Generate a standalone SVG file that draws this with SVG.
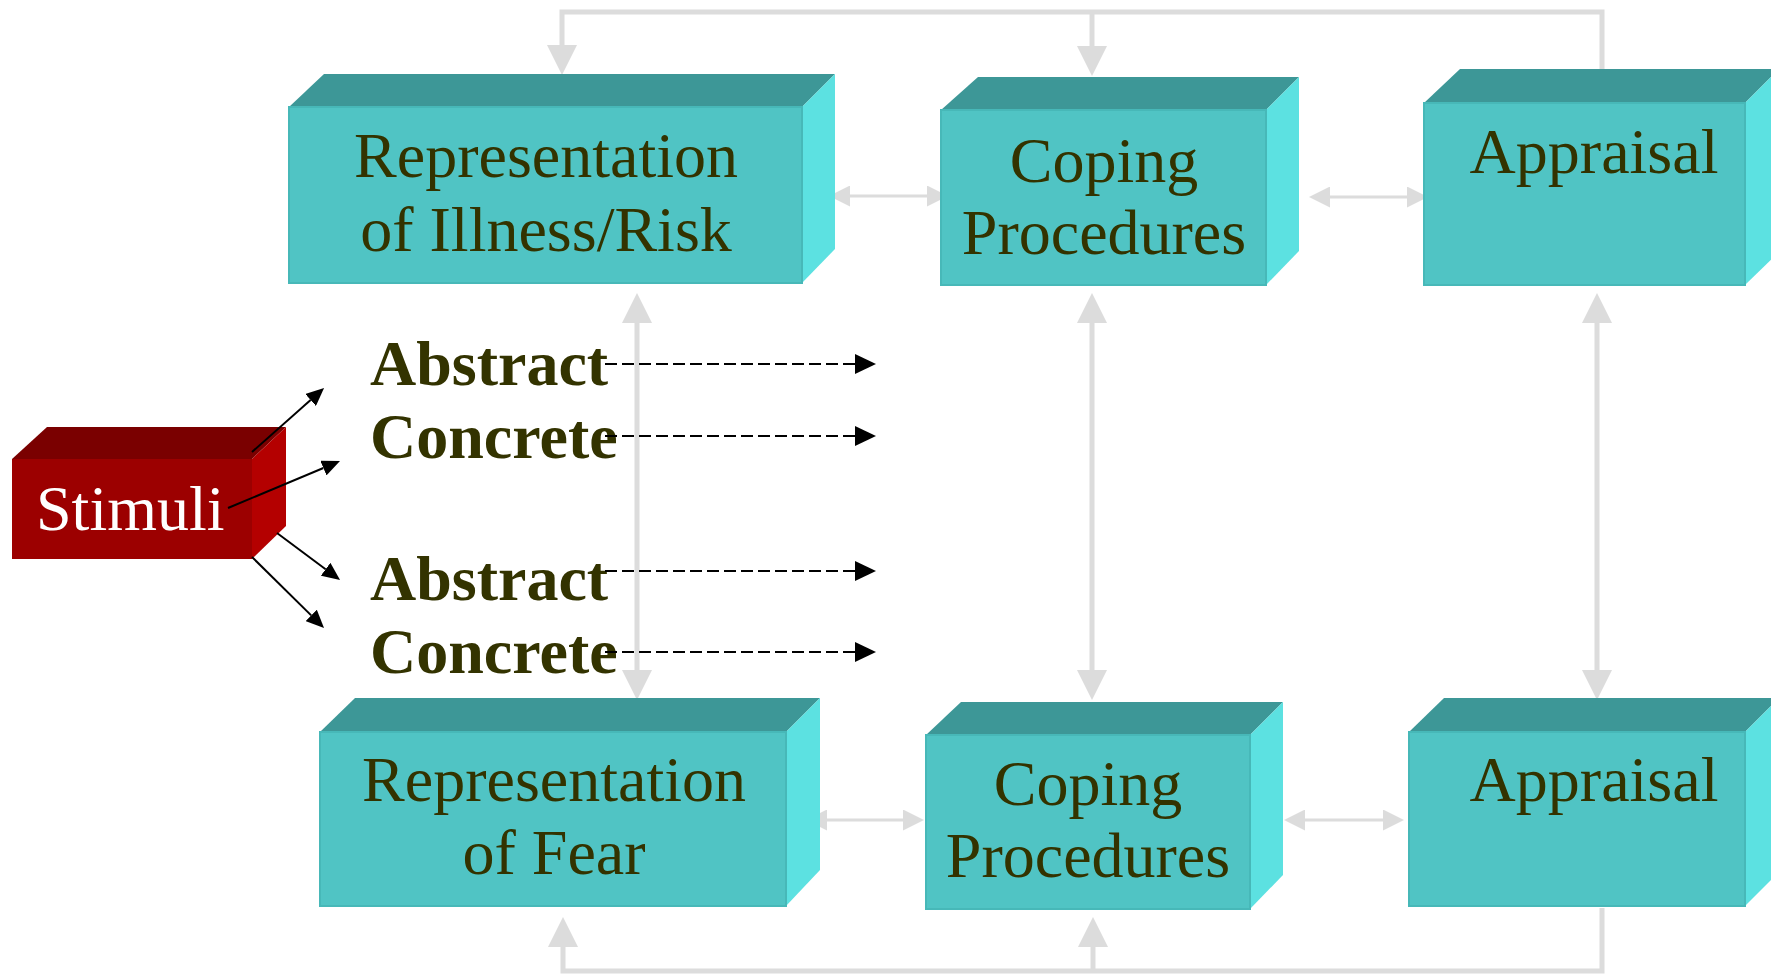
<svg xmlns="http://www.w3.org/2000/svg" width="1771" height="974" viewBox="0 0 1771 974">
<style>
.top{fill:#3d9797}
.front{fill:#50c4c4;stroke:#47b8b8;stroke-width:2}
.side{fill:#5ce1e1}
.rtop{fill:#7a0000}
.rfront{fill:#9c0000}
.rside{fill:#b40000}
.lbl{font-family:"Liberation Serif","Times New Roman",serif;font-size:64px;fill:#333300;text-anchor:middle}
.bold{font-family:"Liberation Serif","Times New Roman",serif;font-size:64px;font-weight:bold;fill:#333300}
.stim{font-family:"Liberation Serif","Times New Roman",serif;font-size:64px;fill:#ffffff}
.gbig{fill:none;stroke:#dcdcdc;stroke-width:5}
.gsmall{fill:none;stroke:#dcdcdc;stroke-width:3}
.dash{fill:none;stroke:#000;stroke-width:2;stroke-dasharray:12 5}
.blk{fill:none;stroke:#000;stroke-width:2}
</style>
<defs>
<marker id="gB" markerUnits="userSpaceOnUse" viewBox="0 0 30 30" markerWidth="30" markerHeight="30" refX="0" refY="15" orient="auto-start-reverse"><path d="M0,0 L30,15 L0,30 z" fill="#dcdcdc"/></marker>
<marker id="gS" markerUnits="userSpaceOnUse" viewBox="0 0 21 21" markerWidth="21" markerHeight="21" refX="0" refY="10.5" orient="auto-start-reverse"><path d="M0,0 L21,10.5 L0,21 z" fill="#dcdcdc"/></marker>
<marker id="bD" markerUnits="userSpaceOnUse" viewBox="0 0 21 20" markerWidth="21" markerHeight="20" refX="0" refY="10" orient="auto"><path d="M0,0 L21,10 L0,20 z" fill="#000"/></marker>
<marker id="bS" markerUnits="userSpaceOnUse" viewBox="0 0 18 16" markerWidth="18" markerHeight="16" refX="0" refY="8" orient="auto"><path d="M0,0 L18,8 L0,16 z" fill="#000"/></marker>
</defs>
<rect width="1771" height="974" fill="#ffffff"/>

<g id="connectors-gray">
<path class="gbig" d="M1602,76 L1602,12 L562,12 L562,45" marker-end="url(#gB)"/>
<path class="gbig" d="M1092,12 L1092,46" marker-end="url(#gB)"/>
<path class="gbig" d="M1602,908 L1602,971 L563,971 L563,947" marker-end="url(#gB)"/>
<path class="gbig" d="M1093,971 L1093,947" marker-end="url(#gB)"/>
<path class="gbig" d="M637,323 L637,670" marker-start="url(#gB)" marker-end="url(#gB)"/>
<path class="gbig" d="M1092,323 L1092,670" marker-start="url(#gB)" marker-end="url(#gB)"/>
<path class="gbig" d="M1597,323 L1597,670" marker-start="url(#gB)" marker-end="url(#gB)"/>
<path class="gsmall" d="M850,196 L927,196" marker-start="url(#gS)" marker-end="url(#gS)"/>
<path class="gsmall" d="M1330,197 L1407,197" marker-start="url(#gS)" marker-end="url(#gS)"/>
<path class="gsmall" d="M827,820 L903,820" marker-start="url(#gS)" marker-end="url(#gS)"/>
<path class="gsmall" d="M1305,820 L1383,820" marker-start="url(#gS)" marker-end="url(#gS)"/>
</g>

<g id="node-rep-illness">
<polygon class="top" points="289,107 324,74 835,74 802,107"/>
<polygon class="side" points="802,107 835,74 835,249 802,283"/>
<rect class="front" x="289" y="107" width="513" height="176"/>
<text class="lbl" x="546" y="177">Representation</text>
<text class="lbl" x="546" y="251">of Illness/Risk</text>
</g>

<g id="node-coping-top">
<polygon class="top" points="941,110 978,77 1299,77 1266,110"/>
<polygon class="side" points="1266,110 1299,77 1299,251 1266,285"/>
<rect class="front" x="941" y="110" width="325" height="175"/>
<text class="lbl" x="1104" y="182">Coping</text>
<text class="lbl" x="1104" y="254">Procedures</text>
</g>

<g id="node-appraisal-top">
<polygon class="top" points="1424,103 1460,69 1779,69 1745,103"/>
<polygon class="side" points="1745,103 1779,69 1779,252 1745,285"/>
<rect class="front" x="1424" y="103" width="321" height="182"/>
<text class="lbl" x="1594" y="173">Appraisal</text>
</g>

<g id="node-rep-fear">
<polygon class="top" points="320,732 355,698 820,698 786,732"/>
<polygon class="side" points="786,732 820,698 820,870 786,906"/>
<rect class="front" x="320" y="732" width="466" height="174"/>
<text class="lbl" x="554" y="801">Representation</text>
<text class="lbl" x="554" y="874">of Fear</text>
</g>

<g id="node-coping-bottom">
<polygon class="top" points="926,735 961,702 1283,702 1250,735"/>
<polygon class="side" points="1250,735 1283,702 1283,875 1250,909"/>
<rect class="front" x="926" y="735" width="324" height="174"/>
<text class="lbl" x="1088" y="805">Coping</text>
<text class="lbl" x="1088" y="877">Procedures</text>
</g>

<g id="node-appraisal-bottom">
<polygon class="top" points="1409,732 1444,698 1779,698 1745,732"/>
<polygon class="side" points="1745,732 1779,698 1779,872 1745,906"/>
<rect class="front" x="1409" y="732" width="336" height="174"/>
<text class="lbl" x="1594" y="801">Appraisal</text>
</g>

<g id="node-stimuli">
<polygon class="rtop" points="12,459 47,427 286,427 252,459"/>
<polygon class="rside" points="252,459 286,427 286,526 252,559"/>
<rect class="rfront" x="12" y="459" width="240" height="100"/>
<text class="stim" x="36" y="530">Stimuli</text>
</g>

<g id="labels">
<text class="bold" x="370" y="385">Abstract</text>
<text class="bold" x="370" y="458">Concrete</text>
<text class="bold" x="370" y="600">Abstract</text>
<text class="bold" x="370" y="673">Concrete</text>
</g>

<g id="connectors-black">
<path class="blk" d="M252,452 L310.6,400" marker-end="url(#bS)"/>
<path class="blk" d="M228,508 L323.4,468" marker-end="url(#bS)"/>
<path class="blk" d="M277,533 L325.6,569.2" marker-end="url(#bS)"/>
<path class="blk" d="M252,557 L311.2,615.4" marker-end="url(#bS)"/>
<path class="dash" d="M605,364 L855,364" marker-end="url(#bD)"/>
<path class="dash" d="M605,436 L855,436" marker-end="url(#bD)"/>
<path class="dash" d="M605,571 L855,571" marker-end="url(#bD)"/>
<path class="dash" d="M605,652 L855,652" marker-end="url(#bD)"/>
</g>
</svg>
